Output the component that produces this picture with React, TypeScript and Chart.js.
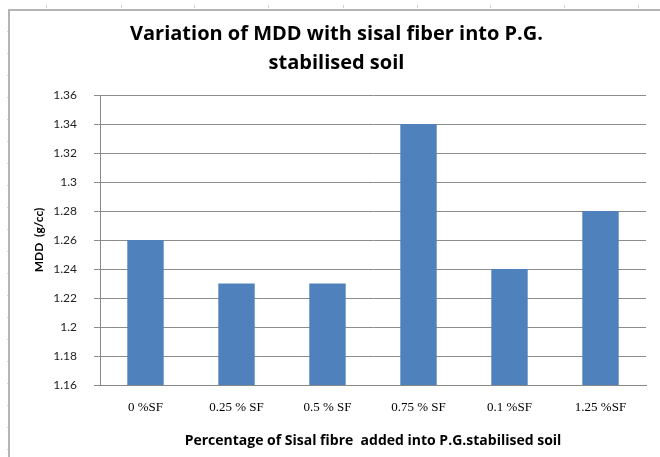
import React, { useEffect, useRef } from "react";
import { Chart, registerables } from "chart.js";

Chart.register(...registerables);

const categories = ["0 %SF", "0.25 % SF", "0.5 % SF", "0.75 % SF", "0.1 %SF", "1.25 %SF"];
const mddValues = [1.26, 1.23, 1.23, 1.34, 1.24, 1.28];
const titleLines = ["Variation of MDD with sisal fiber into P.G.", "stabilised soil"];
const xAxisTitle = "Percentage of Sisal fibre  added into P.G.stabilised soil";
const yAxisTitle = "MDD  (g/cc)";
const yMin = 1.16;
const yMax = 1.36;
const yStep = 0.02;

const W = 660;
const H = 457;

const topMarks = [46, 121, 194, 268, 343, 417, 490, 564, 638];
const leftMarks = Array.from({ length: 20 }, (_, i) => 449 - i * 22).filter((y) => y > 14);

export default function App() {
  const canvasRef = useRef<HTMLCanvasElement | null>(null);

  useEffect(() => {
    const canvas = canvasRef.current;
    if (!canvas) return;
    const chart = new Chart(canvas, {
      type: "bar",
      data: {
        labels: categories,
        datasets: [
          {
            label: "MDD",
            data: mddValues,
            backgroundColor: "#4F81BD",
            borderWidth: 0,
            barPercentage: 0.4,
            categoryPercentage: 1,
          },
        ],
      },
      options: {
        responsive: false,
        animation: false,
        layout: { padding: { left: 27, right: 14, top: 10, bottom: 0 } },
        plugins: {
          legend: { display: false },
          tooltip: { enabled: false },
          title: {
            display: true,
            text: titleLines,
            color: "#000",
            font: { family: "Open Sans", size: 20, weight: "bold", lineHeight: "29px" },
            padding: { top: 9.5, bottom: 17.5 },
          },
        },
        scales: {
          x: {
            grid: { display: false, drawTicks: false },
            border: { display: true, color: "#888888", width: 1 },
            ticks: {
              color: "#000",
              font: { family: "Liberation Serif", size: 13 },
              padding: 15,
              maxRotation: 0,
              autoSkip: false,
            },
            title: {
              display: true,
              text: xAxisTitle,
              color: "#000",
              font: { family: "Open Sans", size: 14, weight: "bold" },
              padding: { top: 0, bottom: 8 },
            },
            afterFit: (scale: any) => {
              scale.height = 72;
            },
          },
          y: {
            min: yMin,
            max: yMax,
            grid: {
              color: "#8c8c8c",
              lineWidth: 1,
              tickLength: 6,
              drawTicks: true,
            },
            border: { display: true, color: "#888888", width: 1 },
            ticks: {
              stepSize: yStep,
              color: "#222",
              font: { family: "Lato", size: 12 },
              padding: 17,
              callback: (v: any) => String(Math.round(Number(v) * 100) / 100),
            },
            title: {
              display: true,
              text: yAxisTitle,
              color: "#000",
              font: { family: "Lato", size: 12, weight: "bold" },
              padding: { top: 5, bottom: 0 },
            },
            afterFit: (scale: any) => {
              scale.width = 73;
            },
          },
        },
      },
    });
    return () => chart.destroy();
  }, []);

  return (
    <div style={{ position: "fixed", left: 0, top: 0, width: W, height: H, background: "#fff", overflow: "hidden" }}>
      {topMarks.map((x) => (
        <div key={"t" + x} style={{ position: "absolute", left: x, top: 5, width: 1, height: 3, background: "#c9d2e3" }} />
      ))}
      {leftMarks.map((y) => (
        <div key={"l" + y} style={{ position: "absolute", left: 7, top: y, width: 2, height: 1, background: "#d4d8e0" }} />
      ))}
      <div
        style={{
          position: "absolute",
          left: 8,
          top: 9,
          width: W,
          height: H,
          borderTop: "2px solid #b4b4b4",
          borderLeft: "2px solid #b4b4b4",
        }}
      />
      <canvas ref={canvasRef} width={W} height={H} style={{ position: "absolute", left: 0, top: 0, display: "block" }} />
    </div>
  );
}
